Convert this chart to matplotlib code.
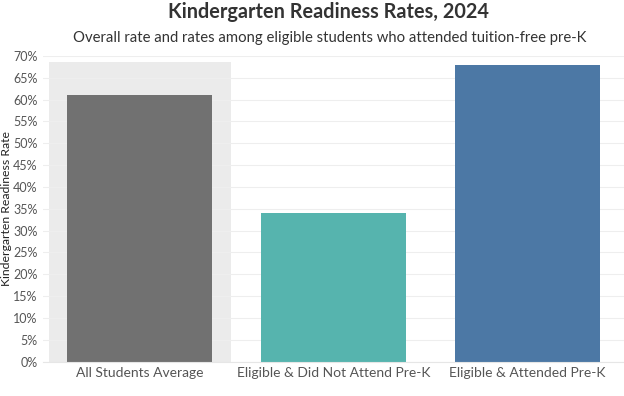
import matplotlib.pyplot as plt
from matplotlib.patches import Rectangle
from matplotlib.ticker import MultipleLocator, FuncFormatter

categories = ["All Students Average", "Eligible & Did Not Attend Pre-K", "Eligible & Attended Pre-K"]
rates = [61, 34, 68]
colors = ["#717171", "#56b4ae", "#4c78a5"]

plt.rcParams['font.family'] = ['Lato', 'DejaVu Sans']

fig = plt.figure(figsize=(6.24, 3.96), dpi=100)
ax = fig.add_axes([0.069, 0.087, 0.931, 0.772])

x = range(len(categories))

# grey highlight behind the overall average
ax.add_patch(Rectangle((-0.47, 0), 0.94, max(rates) + 0.5, color="#ebebeb", zorder=0, lw=0))

ax.bar(x, rates, width=0.75, color=colors, zorder=2)

ax.set_xlim(-0.5, 2.5)
ax.set_ylim(0, 70)
ax.yaxis.set_major_locator(MultipleLocator(5))
ax.yaxis.set_major_formatter(FuncFormatter(lambda v, p: f"{v:.0f}%"))
ax.grid(axis="y", color="#eeeeee", lw=0.8, zorder=1)
ax.set_axisbelow(True)

ax.set_xticks(list(x))
ax.set_xticklabels(categories, fontsize=10, color="#555555")
ax.tick_params(axis="y", labelsize=9, colors="#555555", length=0, pad=4)
ax.tick_params(axis="x", length=0, pad=4)

for s in ax.spines.values():
    s.set_visible(False)
ax.spines["bottom"].set_visible(True)
ax.spines["bottom"].set_color("#e6e6e6")

ax.set_ylabel("Kindergarten Readiness Rate", fontsize=8.8, color="#222222", labelpad=1)

fig.text(0.527, 0.97, "Kindergarten Readiness Rates, 2024", ha="center", va="center",
         fontsize=14.3, fontweight="bold", color="#333333")
fig.text(0.529, 0.905, "Overall rate and rates among eligible students who attended tuition-free pre-K",
         ha="center", va="center", fontsize=10.7, color="#333333")

fig.savefig("out.png", dpi=100)
